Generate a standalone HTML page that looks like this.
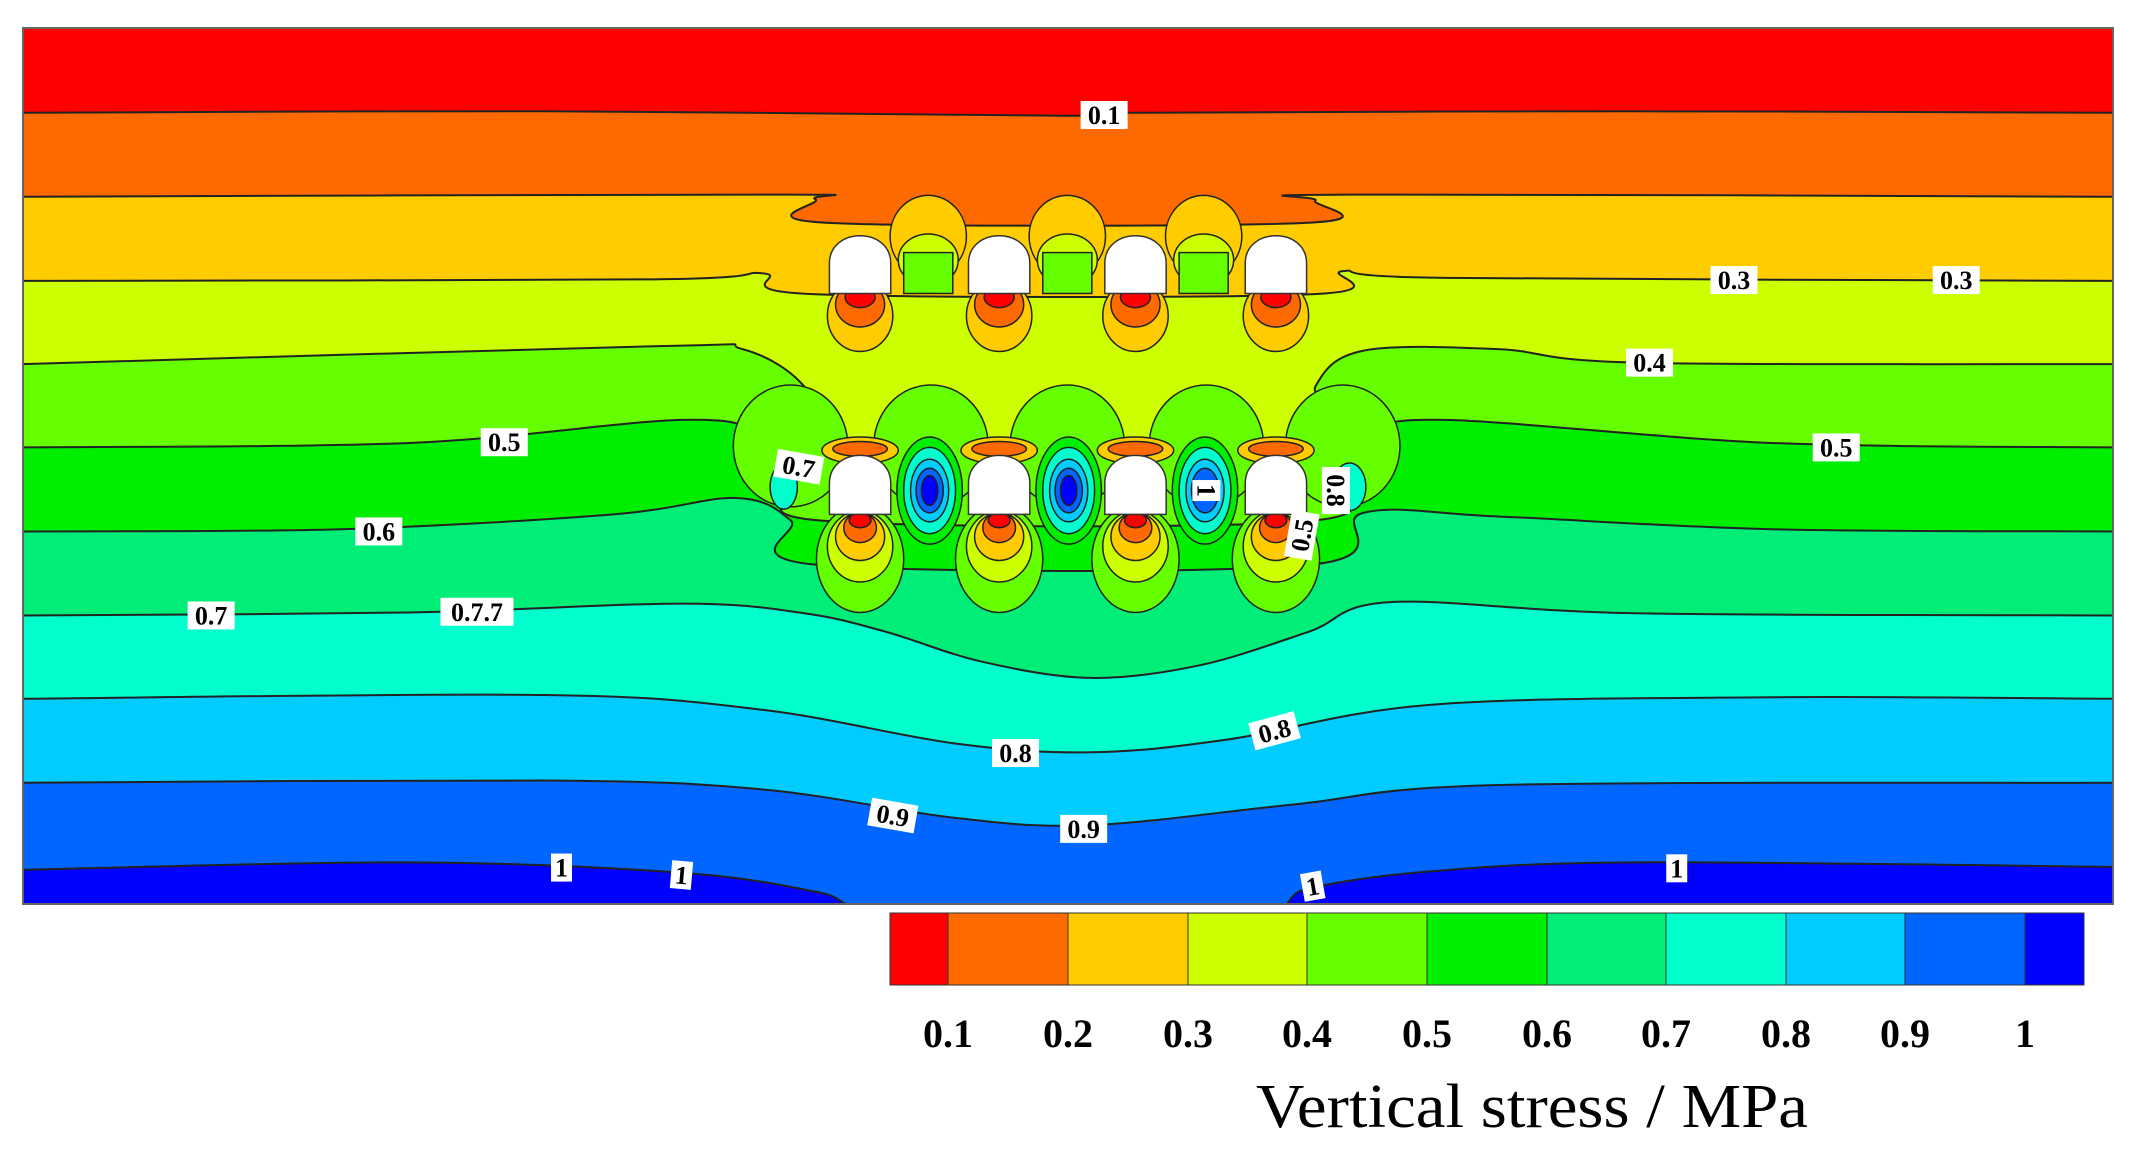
<!DOCTYPE html>
<html><head><meta charset="utf-8"><style>
html,body{margin:0;padding:0;background:#fff;width:2131px;height:1160px;overflow:hidden}
svg{display:block}
.lbl{font-family:"Liberation Serif",serif;font-weight:bold;font-size:26px}
</style></head><body>
<svg id="chart" width="2131" height="1160" viewBox="0 0 2131 1160" xmlns="http://www.w3.org/2000/svg">
<defs><clipPath id="plotclip"><rect x="23" y="28" width="2090" height="876"/></clipPath></defs>
<g id="plot" clip-path="url(#plotclip)"></g>
<rect x="23" y="28" width="2090" height="876" fill="none" stroke="#666" stroke-width="2"/>
<g id="cbar"></g>
<text x="1532" y="1127" text-anchor="middle" font-family="Liberation Serif, serif" font-size="62" textLength="552" lengthAdjust="spacingAndGlyphs">Vertical stress / MPa</text>
</svg>
<script>
// contour levels (MPa) and band colours (band below level i)
const levels = [0.1,0.2,0.3,0.4,0.5,0.6,0.7,0.8,0.9,1];
const bandColors = ["#ff0000","#ff6a00","#ffcc00","#ccff00","#66ff00","#00ee00","#00ee77","#00ffcc","#00ccff","#0066ff","#0000ff"];
// contour lines as [x,y] in model coordinates (x 17..1550, y 38..1216)
const c01 = [[17,152],[400,150],[780,156],[830,152],[1200,150],[1550,152]];
const c02 = [[17,265],[560,262],[598,268],[608,300],[958,300],[965,270],[990,262],[1550,265]];
const c03 = [[17,378],[480,376],[560,368],[598,396],[962,396],[985,365],[1060,374],[1550,378]];
const c04 = [[17,490],[480,466],[545,470],[590,520],[605,600],[960,600],[965,520],[1000,472],[1100,470],[1200,488],[1550,490]];
const c05 = [[17,602],[300,596],[500,565],[560,585],[595,640],[600,700],[965,700],[970,630],[1000,585],[1060,565],[1300,596],[1550,602]];
const c06 = [[17,715],[250,712],[450,692],[540,670],[580,700],[600,760],[960,760],[1000,690],[1100,695],[1300,712],[1550,715]];
const c07 = [[17,828],[300,824],[500,812],[590,825],[650,850],[720,890],[800,912],[880,895],[960,850],[1020,810],[1200,825],[1550,828]];
const c08 = [[17,940],[400,935],[560,955],[700,1000],[800,1012],[900,995],[1050,948],[1300,938],[1550,940]];
const c09 = [[17,1053],[400,1050],[560,1062],[700,1100],[800,1110],[950,1082],[1100,1056],[1550,1053]];
const c10 = [[17,1170],[300,1160],[500,1174],[600,1200],[660,1230],[910,1230],[960,1195],[1050,1172],[1200,1160],[1550,1166]];
const contours = [c01,c02,c03,c04,c05,c06,c07,c08,c09,c10];
// tunnels (model coords)
const tunnelX = [631,733,833,936];
const tunnelRowsY = [[305,395],[600,692]];
const tunnelW = 45;
// contour labels [text,x,y,rotation]
const labelText = ["0.1","0.3","0.3","0.4","0.5","0.5","0.6","0.7","0.7.7","0.7","1","0.8","0.5","0.8","0.8","0.9","0.9","1","1","1","1"];
const labelX = [810,1272,1435,1210,370,1347,278,155,350,586,885,980,955,745,935,655,795,412,500,963,1230];
const labelY = [155,377,377,488,595,602,715,828,823,628,660,660,720,1013,983,1097,1115,1167,1177,1192,1168];
const labelRot = [0,0,0,0,0,0,0,0,0,10,90,90,-80,0,-15,10,0,0,5,-10,0];
// colorbar
const cbTicks = ["0.1","0.2","0.3","0.4","0.5","0.6","0.7","0.8","0.9","1"];

const NS="http://www.w3.org/2000/svg";
const X = v => 23 + (v-17)*(2090/1533);
const Y = v => 28 + (v-38)*(876/1178);
const plot=document.getElementById('plot');
function mk(tag,attrs,parent){const e=document.createElementNS(NS,tag);for(const k in attrs)e.setAttribute(k,attrs[k]);(parent||plot).appendChild(e);return e;}
function smooth(pts){
  const p=pts.map(q=>[X(q[0]),Y(q[1])]);
  let d="M"+p[0][0]+","+p[0][1];
  for(let i=0;i<p.length-1;i++){
    const p0=p[Math.max(0,i-1)],p1=p[i],p2=p[i+1],p3=p[Math.min(p.length-1,i+2)];
    const c1=[p1[0]+(p2[0]-p0[0])/6,p1[1]+(p2[1]-p0[1])/6];
    const c2=[p2[0]-(p3[0]-p1[0])/6,p2[1]-(p3[1]-p1[1])/6];
    d+=" C"+c1[0]+","+c1[1]+" "+c2[0]+","+c2[1]+" "+p2[0]+","+p2[1];
  }
  return d;
}
let bg=mk('rect',{x:0,y:0,width:2131,height:1160,fill:bandColors[10]});


for(let i=levels.length-1;i>=0;i--){
  const line=smooth(contours[i]);
  const f=mk('path',{d:line+" L"+X(1560)+","+Y(20)+" L"+X(0)+","+Y(20)+" Z",fill:bandColors[i]});
  
  
}
for(let i=0;i<levels.length;i++){
  const l=mk('path',{d:smooth(contours[i]),fill:'none',stroke:'#222',"stroke-width":2});
  
  
}
function ell(cx,cy,rx,ry,fill,name){const e=mk('ellipse',{cx:X(cx),cy:Y(cy),rx:rx*1.363,ry:ry*0.7436,fill:fill,stroke:'#222','stroke-width':1.5});
  
  }
// green domes above lower pillars
[580,683,783,885,985].forEach(cx=>{ell(cx,600,42,82,bandColors[4],'lower-green-dome');});
tunnelX.forEach((tx,k)=>{
  if(k<3){
    ell(tx+50,318,28,55,bandColors[2],'upper-yellow-arch');
    ell(tx+50,350,22,35,bandColors[3],'upper-yellowgreen-arch');
    const r=mk('rect',{x:X(tx+32),y:Y(340),width:36*1.363,height:55*0.7436,fill:bandColors[4],stroke:'#222','stroke-width':1.5});
    
    }
  ell(tx,425,24,48,bandColors[2],'upper-yellow-bulb');
  ell(tx,410,18,30,bandColors[1],'upper-orange-bulb');
  ell(tx,400,11,14,bandColors[0],'upper-red-bulb');
  ell(tx,606,28,18,bandColors[2],'lower-yellow-cap');
  ell(tx,604,20,10,bandColors[1],'lower-orange-cap');
  ell(tx,752,32,72,bandColors[4],'lower-green-bulb');
  ell(tx,735,24,48,bandColors[3],'lower-yellowgreen-bulb');
  ell(tx,722,18,32,bandColors[2],'lower-yellow-bulb');
  ell(tx,710,12,20,bandColors[1],'lower-orange-bulb');
  ell(tx,700,8,10,bandColors[0],'lower-red-bulb');
  if(k<3){const cx=tx+51;
    ell(cx,660,24,72,bandColors[5],'pillar-green');
    ell(cx,660,19,58,bandColors[7],'pillar-cyan');
    ell(cx,660,14,42,bandColors[8],'pillar-lightblue');
    ell(cx,660,10,30,bandColors[9],'pillar-blue');
    if(k!==2) ell(cx,660,6,20,bandColors[10],'pillar-darkblue');}
});
ell(575,655,10,30,bandColors[7],'left-cyan-lens');
ell(990,655,12,32,bandColors[7],'right-cyan-lens');
tunnelRowsY.forEach(r=>{tunnelX.forEach(tx=>{
  const x0=X(tx-tunnelW/2),x1=X(tx+tunnelW/2),yt=Y(r[0]),yb=Y(r[1]),ah=(yb-yt)*0.55;
  const t=mk('path',{d:`M${x0},${yb} L${x0},${yt+ah} C${x0},${yt} ${x1},${yt} ${x1},${yt+ah} L${x1},${yb} Z`,fill:'#fff',stroke:'#333','stroke-width':1.5});
  
  
});});
labelText.forEach((s,i)=>{
  const g=mk('g',{transform:`translate(${X(labelX[i])},${Y(labelY[i])}) rotate(${labelRot[i]})`});
  
  
  const w=s.length*13+8;
  mk('rect',{x:-w/2,y:-14,width:w,height:28,fill:'#fff'},g);
  const t=mk('text',{x:0,y:9,"text-anchor":"middle",class:'lbl'},g);
  t.textContent=s;
});
const cb=document.getElementById('cbar');
const cbEdges=[890,948,1068,1188,1307,1427,1547,1666,1786,1905,2025,2084];
for(let i=0;i<bandColors.length;i++){
  const r=mk('rect',{x:cbEdges[i],y:913,width:cbEdges[i+1]-cbEdges[i],height:72,fill:bandColors[i],stroke:'#333','stroke-width':1},cb);
  
  
}
cbTicks.forEach((s,i)=>{
  const t=mk('text',{x:cbEdges[i+1],y:1047,"text-anchor":"middle","font-family":"Liberation Serif, serif","font-weight":"bold","font-size":40},cb);
  
  
  t.textContent=s;
});
</script>
</body></html>
